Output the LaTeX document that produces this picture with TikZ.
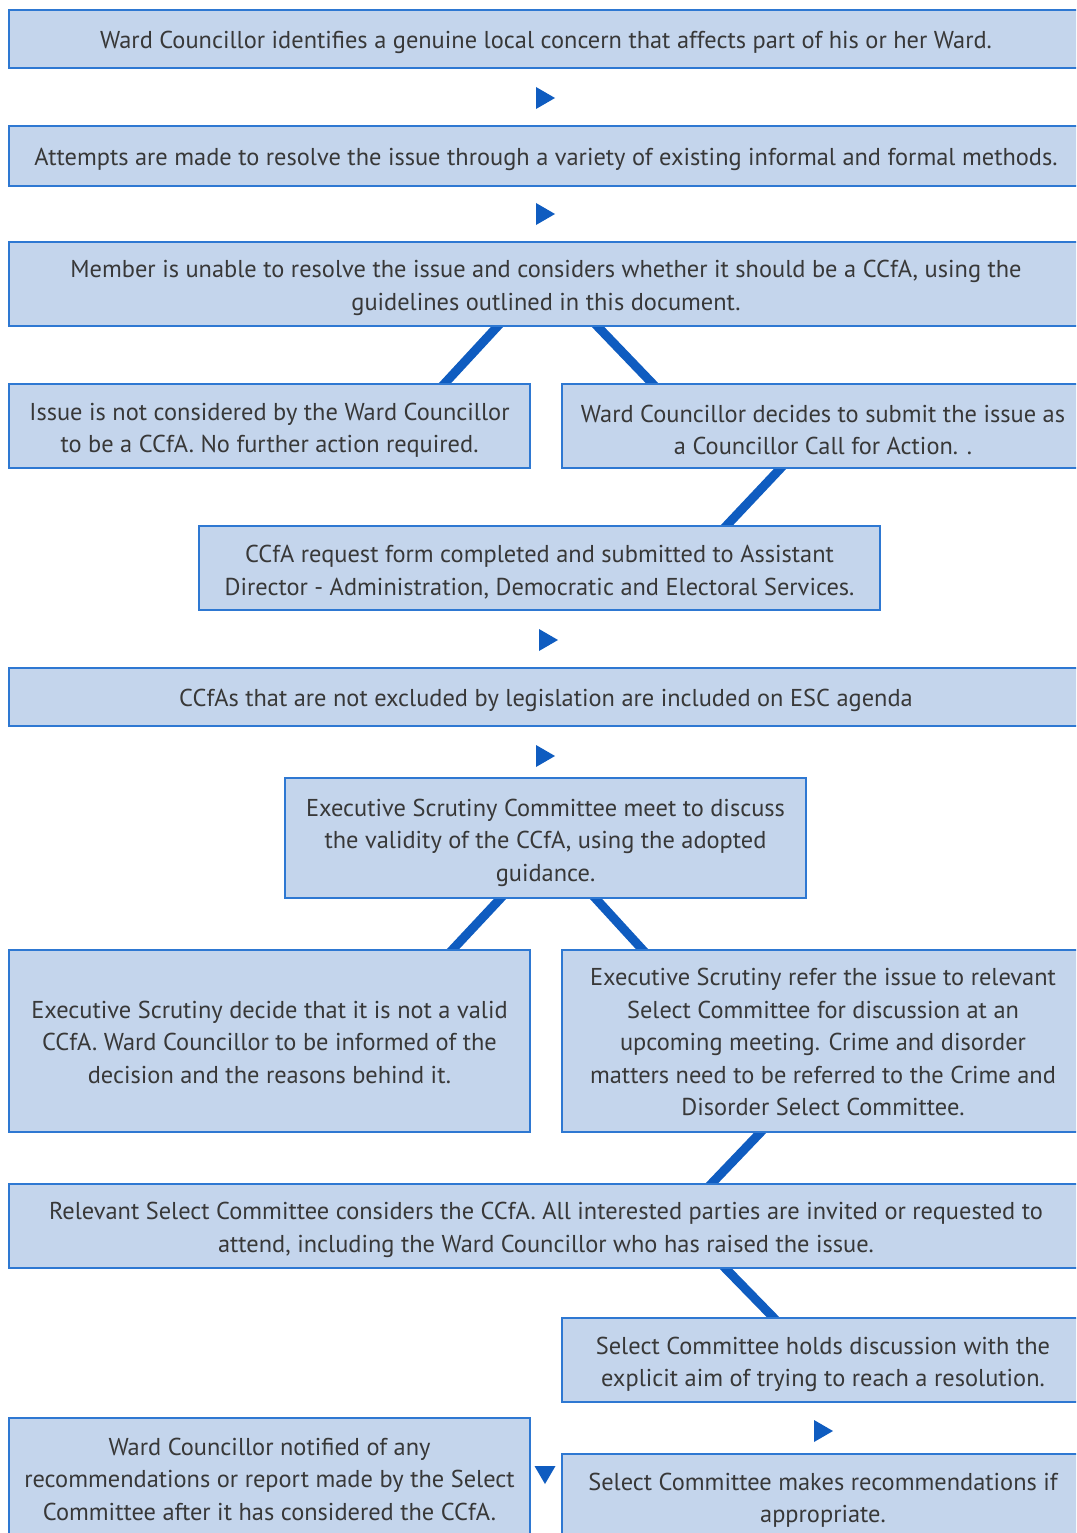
\documentclass[tikz,border=0pt]{standalone}
\usepackage{fontspec}
\setmainfont{PT Sans}
\usetikzlibrary{calc}
\pgfdeclarelayer{background}
\pgfdeclarelayer{canvas}
\pgfsetlayers{canvas,background,main}
\definecolor{boxfill}{HTML}{C4D5EC}
\definecolor{boxline}{HTML}{2E78D2}
\definecolor{conncol}{HTML}{0F5CC0}
\newcommand\fl[1][25.5pt]{\rule{0pt}{#1}}
\tikzset{
  box/.style={draw=boxline, line width=1.8pt, fill=boxfill, inner sep=0pt, align=center,
    font=\fontsize{24.4}{32.5}\selectfont, text=black!78},
  conn/.style={draw=conncol, line width=9pt, shorten <=-8pt, shorten >=-8pt},
  tri/.style={fill=conncol}
}
\begin{document}
\begin{tikzpicture}[x=1pt,y=-1pt]
\clip (0,0) rectangle (1076,1533);
\path[use as bounding box] (0,0) rectangle (1076,1533);
\begin{pgfonlayer}{canvas}
\fill[white] (0,0) rectangle (1076,1533);
\end{pgfonlayer}

\node[box, minimum width=1074, minimum height=58] (b1) at (546,39)
  {\fl[24.5pt]Ward Councillor identifies a genuine local concern that affects part of his or her Ward.};
\node[box, minimum width=1074, minimum height=60] (b2) at (546,156)
  {\fl[24.5pt]Attempts are made to resolve the issue through a variety of existing informal and formal methods.};
\node[box, minimum width=1074, minimum height=84] (b3) at (546,284)
  {\fl Member is unable to resolve the issue and considers whether it should be a CCfA, using the\\\fl[27pt]guidelines outlined in this document.};
\node[box, minimum width=521, minimum height=84] (b4) at (269.5,426)
  {\fl Issue is not considered by the Ward Councillor\\to be a CCfA. No further action required.};
\node[box, minimum width=522, minimum height=84] (b5) at (823,426)
  {\fl Ward Councillor decides to submit the issue as\\a Councillor Call for Action. .};
\node[box, minimum width=681, minimum height=84] (b6) at (539.5,568)
  {\fl CCfA request form completed and submitted to Assistant\\Director - Administration, Democratic and Electoral Services.};
\node[box, minimum width=1074, minimum height=58] (b7) at (546,697)
  {\fl[24.5pt]CCfAs that are not excluded by legislation are included on ESC agenda};
\node[box, minimum width=521, minimum height=120] (b8) at (545.5,838)
  {\fl[26.5pt]Executive Scrutiny Committee meet to discuss\\the validity of the CCfA, using the adopted\\guidance.};
\node[box, minimum width=521, minimum height=182] (b9) at (269.5,1041)
  {\fl[20pt]Executive Scrutiny decide that it is not a valid\\CCfA. Ward Councillor to be informed of the\\decision and the reasons behind it.};
\node[box, minimum width=522, minimum height=182] (b10) at (823,1041)
  {\fl[20pt]Executive Scrutiny refer the issue to relevant\\Select Committee for discussion at an\\upcoming meeting. Crime and disorder\\matters need to be referred to the Crime and\\Disorder Select Committee.};
\node[box, minimum width=1074, minimum height=84] (b11) at (546,1226)
  {\fl Relevant Select Committee considers the CCfA. All interested parties are invited or requested to\\attend, including the Ward Councillor who has raised the issue.};
\node[box, minimum width=522, minimum height=84] (b12) at (823,1360)
  {\fl[26pt]Select Committee holds discussion with the\\explicit aim of trying to reach a resolution.};
\node[box, minimum width=522, minimum height=84] (b13) at (823,1496)
  {\fl Select Committee makes recommendations if\\appropriate.};
\node[box, minimum width=521, minimum height=120] (b14) at (269.5,1478)
  {\fl[20pt]Ward Councillor notified of any\\recommendations or report made by the Select\\Committee after it has considered the CCfA.};

\begin{pgfonlayer}{background}
\draw[conn] ([xshift=-49pt]b3.south) -- ([xshift=175.5pt]b4.north);
\draw[conn] ([xshift=52pt]b3.south) -- ([xshift=-171pt]b5.north);
\draw[conn] ([xshift=-43pt]b5.south) -- ([xshift=187.5pt]b6.north);
\draw[conn] ([xshift=-45.5pt]b8.south) -- ([xshift=183.5pt]b9.north);
\draw[conn] ([xshift=50.5pt]b8.south) -- ([xshift=-181pt]b10.north);
\draw[conn] ([xshift=-63pt]b10.south) -- ([xshift=166pt]b11.north);
\draw[conn] ([xshift=180pt]b11.south) -- ([xshift=-50pt]b12.north);
\end{pgfonlayer}

\coordinate (t1) at (545,98);
\coordinate (t2) at (545,214);
\coordinate (t3) at (548,640);
\coordinate (t4) at (545,756);
\coordinate (t5) at (823,1431);
\coordinate (t6) at (545,1475);
\foreach \t in {t1,t2,t3,t4,t5}{
  \fill[tri] ($(\t)+(-9,-11)$) -- ($(\t)+(10,0)$) -- ($(\t)+(-9,11)$) -- cycle;
}
\fill[tri] ($(t6)+(-10.5,-9)$) -- ($(t6)+(10.5,-9)$) -- ($(t6)+(0,9)$) -- cycle;
\end{tikzpicture}
\end{document}
